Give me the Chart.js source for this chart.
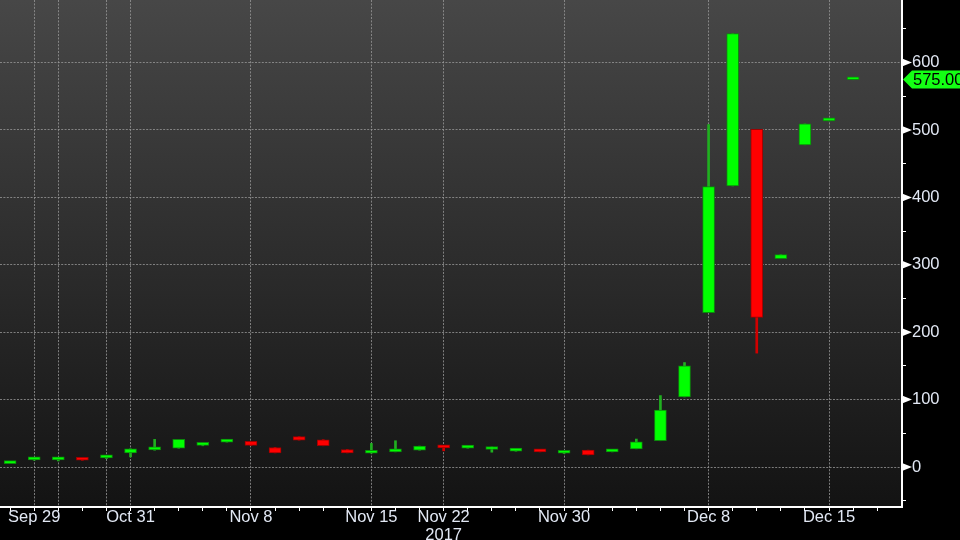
<!DOCTYPE html>
<html>
<head>
<meta charset="utf-8">
<script src="https://cdn.jsdelivr.net/npm/chart.js@4/dist/chart.umd.min.js"></script>
<style>
  html, body { margin: 0; padding: 0; background: #000; overflow: hidden; }
</style>
</head>
<body>
<canvas id="candle-chart" width="960" height="540"></canvas>
<script>
// one candle per trading slot (index 0..35)
const opens  = [5, 10.5, 10.5, 13, 13.5, 21, 25.5, 28, 32, 37, 38, 29, 45, 40.5, 26, 20.5, 22.5, 25,
                31, 28, 26, 23.5, 23, 20.5, 25, 22.5, 27, 39, 104, 229, 417, 501, 309, 478, 513.5, 574.5];
const highs  = [5.5, 12, 13, 13, 16, 27, 41, 41, 32.5, 37.5, 38, 29, 45, 40.5, 26, 35, 39, 31,
                31, 28.5, 29.7, 24, 23, 22, 25, 23, 41.5, 106, 155, 508, 643, 501, 315, 509, 514, 575];
const lows   = [5, 10, 9, 10, 12.5, 15, 25, 28, 31.5, 37, 32, 21, 40, 31.5, 21, 20.5, 22.5, 25,
                24, 28, 22, 23.5, 22.5, 20, 18, 22.5, 27, 39, 104, 229, 417, 169, 309, 478, 513.5, 574.5];
const closes = [5.5, 11, 11, 10, 14, 27, 26, 41, 32.5, 37.5, 32, 21, 40, 31.5, 21, 21, 23, 31,
                28.5, 28.5, 29.7, 24, 22.5, 21, 18, 23, 37.5, 84.5, 150, 416, 643, 222, 315, 509, 514, 575];

// x axis: date labels and dotted grid lines sit on these slots
const tickPos  = [1, 5, 10, 15, 18, 23, 29, 34];
const tickText = ["Sep 29", "Oct 31", "Nov 8", "Nov 15", ["Nov 22", "2017"], "Nov 30", "Dec 8", "Dec 15"];
const gridPos  = [1, 2, 4, 5, 10, 15, 18, 23, 29, 34];
const slotCount = 37;

// y axis
const yLabels = [0, 100, 200, 300, 400, 500, 600];
const yMinor  = [-50, 0, 50, 100, 150, 200, 250, 300, 350, 400, 450, 500, 550, 600, 650];

const isUp = (i) => closes[i] >= opens[i];
const gridColor = "rgba(150,150,150,0.8)";
const labelFont = { family: "'Liberation Sans', Arial, sans-serif", size: 16.5, lineHeight: 1.06 };

const chartBackground = {
  id: "chartBackground",
  beforeDraw(chart) {
    const { ctx, chartArea: a } = chart;
    ctx.save();
    ctx.fillStyle = "#000";
    ctx.fillRect(0, 0, chart.width, chart.height);
    const g = ctx.createLinearGradient(0, a.top, 0, a.bottom);
    g.addColorStop(0, "#474747");
    g.addColorStop(1, "#131313");
    ctx.fillStyle = g;
    ctx.fillRect(a.left, a.top, a.right - a.left, a.bottom - a.top);
    ctx.restore();
  },
};

const axisMarks = {
  id: "axisMarks",
  afterDraw(chart) {
    const { ctx, chartArea: a } = chart;
    const y = chart.scales.y;
    ctx.save();
    // little white pennants on the major y ticks
    ctx.fillStyle = "#fff";
    yLabels.forEach((v) => {
      const py = y.getPixelForValue(v);
      ctx.beginPath();
      ctx.moveTo(a.right, py - 4);
      ctx.lineTo(a.right + 10, py);
      ctx.lineTo(a.right, py + 4);
      ctx.closePath();
      ctx.fill();
    });
    // last price tag
    const last = closes[closes.length - 1];
    const py = y.getPixelForValue(last);
    ctx.fillStyle = "#14ff14";
    ctx.beginPath();
    ctx.moveTo(a.right + 1, py);
    ctx.lineTo(a.right + 10, py - 9);
    ctx.lineTo(chart.width, py - 9);
    ctx.lineTo(chart.width, py + 9);
    ctx.lineTo(a.right + 10, py + 9);
    ctx.closePath();
    ctx.fill();
    ctx.fillStyle = "#000";
    ctx.font = "16.5px 'Liberation Sans', Arial, sans-serif";
    ctx.textBaseline = "middle";
    ctx.fillText(last.toFixed(2), a.right + 11, py + 1);
    ctx.restore();
  },
};

new Chart(document.getElementById("candle-chart"), {
  type: "bar",
  data: {
    datasets: [
      {
        // wicks
        data: lows.map((l, i) => ({ x: i, y: [l, highs[i]] })),
        backgroundColor: (c) => (isUp(c.dataIndex) ? "#20b020" : "#d00000"),
        barThickness: 2,
        grouped: false,
        order: 2,
      },
      {
        // bodies
        data: opens.map((o, i) => ({ x: i, y: [o, closes[i]] })),
        backgroundColor: (c) => (isUp(c.dataIndex) ? "#00ff00" : "#ff0000"),
        borderColor: (c) => (isUp(c.dataIndex) ? "#0c8a0c" : "#a00000"),
        borderWidth: 1,
        borderSkipped: false,
        barThickness: 12,
        minBarLength: 3,
        grouped: false,
        order: 1,
      },
    ],
  },
  options: {
    responsive: false,
    animation: false,
    layout: { padding: 0 },
    plugins: {
      legend: { display: false },
      tooltip: { enabled: false },
    },
    scales: {
      x: {
        type: "linear",
        offset: false,
        min: -0.42,
        max: 37.03,
        afterBuildTicks: (scale) => {
          scale.ticks = Array.from({ length: slotCount }, (_, i) => ({ value: i }));
        },
        afterFit: (scale) => {
          scale.height = 33;
          scale.paddingLeft = 0;
          scale.paddingRight = 0;
        },
        grid: {
          offset: false,
          color: (c) => (c.tick && gridPos.includes(c.tick.value) ? gridColor : "rgba(0,0,0,0)"),
          lineWidth: 1,
          tickColor: "#fff",
          tickLength: 4,
          tickWidth: 1,
        },
        border: { display: true, color: "#fff", width: 2, dash: [2, 1.4] },
        ticks: {
          autoSkip: false,
          maxRotation: 0,
          padding: -2,
          color: "#e2e8f4",
          font: labelFont,
          callback: (v) => {
            const k = tickPos.indexOf(v);
            return k >= 0 ? tickText[k] : "";
          },
        },
      },
      y: {
        position: "right",
        min: -59.3,
        max: 692.8,
        afterBuildTicks: (scale) => {
          scale.ticks = yMinor.map((v) => ({ value: v }));
        },
        afterFit: (scale) => {
          scale.width = 58;
          scale.paddingTop = 0;
          scale.paddingBottom = 0;
        },
        grid: {
          color: (c) => (c.tick && yLabels.includes(c.tick.value) ? gridColor : "rgba(0,0,0,0)"),
          lineWidth: 1,
          tickColor: "#fff",
          tickLength: 4,
          tickWidth: 1,
        },
        border: { display: true, color: "#fff", width: 2, dash: [2, 1.4] },
        ticks: {
          padding: 6,
          color: "#e2e8f4",
          font: labelFont,
          callback: (v) => (yLabels.includes(v) ? String(v) : ""),
        },
      },
    },
  },
  plugins: [chartBackground, axisMarks],
});
</script>
</body>
</html>
